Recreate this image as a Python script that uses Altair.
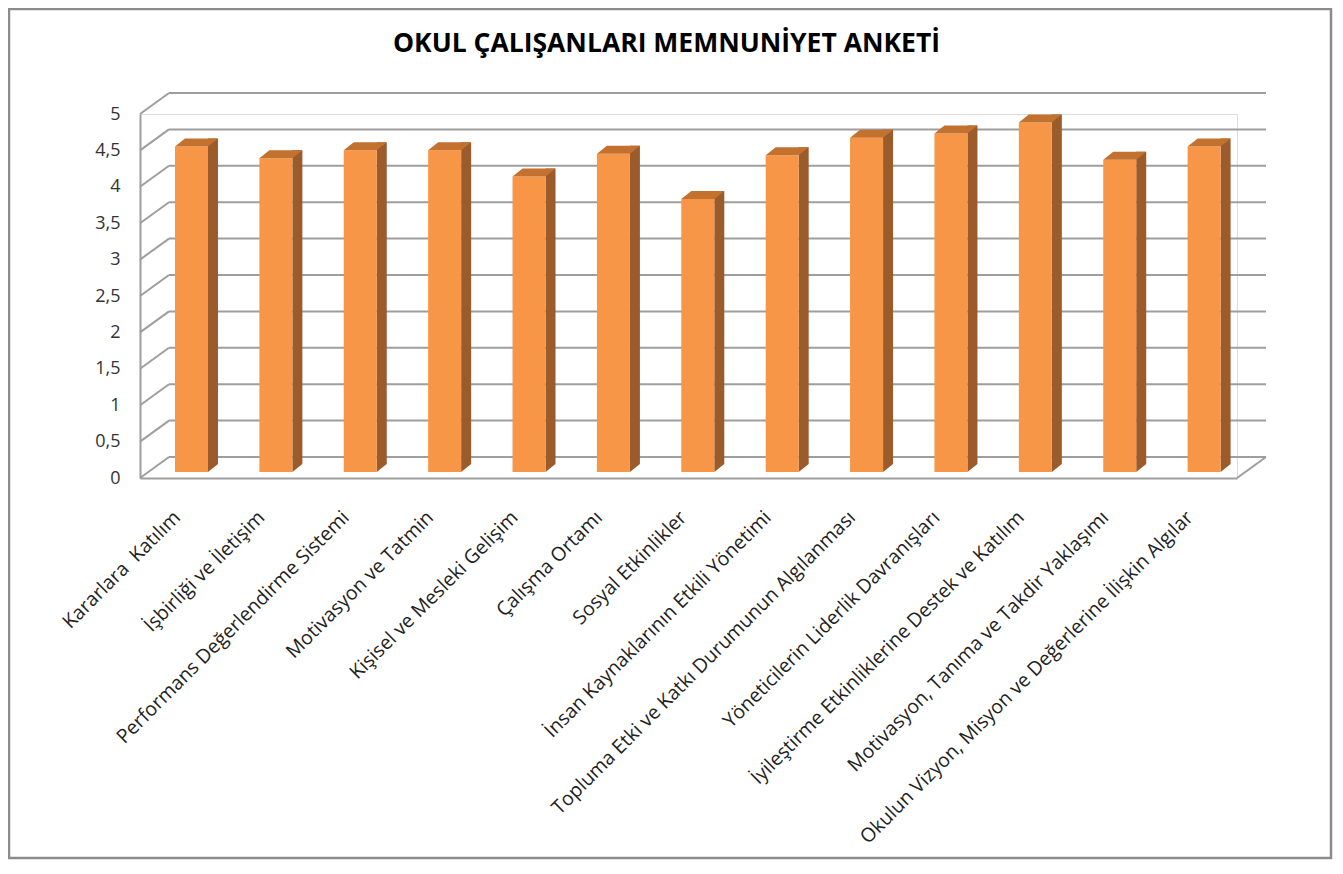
import altair as alt
import pandas as pd

categories = [
    "Kararlara \u00a0Katılım",
    "İşbirliği ve İletişim",
    "Performans Değerlendirme Sistemi",
    "Motivasyon ve Tatmin",
    "Kişisel ve Mesleki Gelişim",
    "Çalışma Ortamı",
    "Sosyal Etkinlikler",
    "İnsan Kaynaklarının Etkili Yönetimi",
    "Topluma Etki ve Katkı Durumunun Algılanması",
    "Yöneticilerin Liderlik Davranışları",
    "İyileştirme Etkinliklerine Destek ve Katılım",
    "Motivasyon, Tanıma ve Takdir Yaklaşımı",
    "Okulun Vizyon, Misyon ve Değerlerine İlişkin Algılar",
]
values = [4.47, 4.31, 4.42, 4.42, 4.06, 4.37, 3.75, 4.35, 4.59, 4.65, 4.80, 4.29, 4.47]
ticks = [0, 0.5, 1, 1.5, 2, 2.5, 3, 3.5, 4, 4.5, 5]
title_text = "OKUL ÇALIŞANLARI MEMNUNİYET ANKETİ"

W, H = 1097, 364
DX, DY = 29, -21
FONT = "Open Sans"
FRONT = "#F79646"
SIDE = "#9C5B2A"
TOP = "#C3712F"
GRID = "#9e9e9e"
GW = 2

bars = pd.DataFrame({"cat": categories, "v": values})
grid = pd.DataFrame({"t": ticks})
one = pd.DataFrame({"t": [0]})

y_scale = alt.Scale(domain=[0, 5], nice=False, zero=True)
y_axis = alt.Axis(
    values=ticks, title=None, grid=False, ticks=False, domain=True,
    domainColor=GRID, domainWidth=GW,
    labelExpr="replace(format(datum.value, '~g'), '.', ',')",
    labelFont=FONT, labelFontSize=18, labelColor="#333333", labelPadding=20,
)
x_axis = alt.Axis(
    title=None, ticks=False, domain=True, domainColor=GRID, domainWidth=GW,
    labelAngle=-45, labelAlign="right", labelBaseline="middle",
    labelFont=FONT, labelFontSize=19.5, labelColor="#222222",
    labelPadding=36, labelOffset=-5, labelLimit=0,
)
x_enc = alt.X("cat:N", sort=categories, scale=alt.Scale(paddingInner=0, paddingOuter=0), axis=x_axis)

back = alt.Chart(grid).mark_rule(
    color=GRID, strokeWidth=GW, xOffset=DX, x2Offset=DX, yOffset=DY, y2Offset=DY
).encode(
    y=alt.Y("t:Q", scale=y_scale, axis=y_axis),
    x=alt.value(0), x2=alt.value(W),
)

sidewall = alt.Chart(grid).mark_rule(
    color=GRID, strokeWidth=GW, x2Offset=DX, y2Offset=DY
).encode(
    y=alt.Y("t:Q", scale=y_scale, axis=y_axis), y2="t:Q",
    x=alt.value(0), x2=alt.value(0),
)

floor_edge = alt.Chart(one).mark_rule(
    color=GRID, strokeWidth=GW, x2Offset=DX, y2Offset=DY
).encode(
    y=alt.Y("t:Q", scale=y_scale, axis=y_axis), y2="t:Q",
    x=alt.value(W), x2=alt.value(W),
)

side = alt.Chart(bars).mark_bar(
    width=10, xOffset=30.8, yOffset=-14, y2Offset=-14, color=SIDE
).encode(
    x=x_enc, y=alt.Y("v:Q", scale=y_scale, axis=y_axis), y2=alt.Y2(datum=0),
)

side_foot = alt.Chart(bars).mark_point(
    shape="M -1 -0.8 L 1 -0.8 L -1 0.8 Z", size=100, filled=True,
    color=SIDE, opacity=1, strokeWidth=0, xOffset=30.8, yOffset=-10,
).encode(
    x=x_enc, y=alt.Y(datum=0, scale=y_scale, axis=y_axis),
)

front = alt.Chart(bars).mark_bar(
    width=33, xOffset=9.3, yOffset=-6, y2Offset=-6, color=FRONT
).encode(
    x=x_enc, y=alt.Y("v:Q", scale=y_scale, axis=y_axis), y2=alt.Y2(datum=0),
)

top = alt.Chart(bars).mark_point(
    shape="M -1 0.186 L 0.535 0.186 L 1 -0.186 L -0.535 -0.186 Z", size=1849,
    filled=True, color=TOP, opacity=1, strokeWidth=0, xOffset=14.3, yOffset=-10,
).encode(
    x=x_enc, y=alt.Y("v:Q", scale=y_scale, axis=y_axis),
)

title = alt.Chart(one).mark_text(
    text=title_text, font=FONT, fontSize=26.5, fontWeight="bold", color="#000000",
    align="center", baseline="middle",
).encode(x=alt.value(W / 2 - 22), y=alt.value(-70))

frame = alt.Chart(one).mark_rect(
    fillOpacity=0, stroke="#8c8c8c", strokeWidth=2.5
).encode(
    x=alt.value(-131), x2=alt.value(1191), y=alt.value(-105), y2=alt.value(744),
)

chart = alt.layer(back, sidewall, floor_edge, side, side_foot, front, top, title, frame).properties(
    width=W, height=H,
    autosize=alt.AutoSizeParams(type="none"),
    padding={"left": 132, "top": 106, "right": 96, "bottom": 382},
).configure_view(stroke=None).configure(background="white")

chart.save("out.html", embed_options={"renderer": "svg", "actions": False})
